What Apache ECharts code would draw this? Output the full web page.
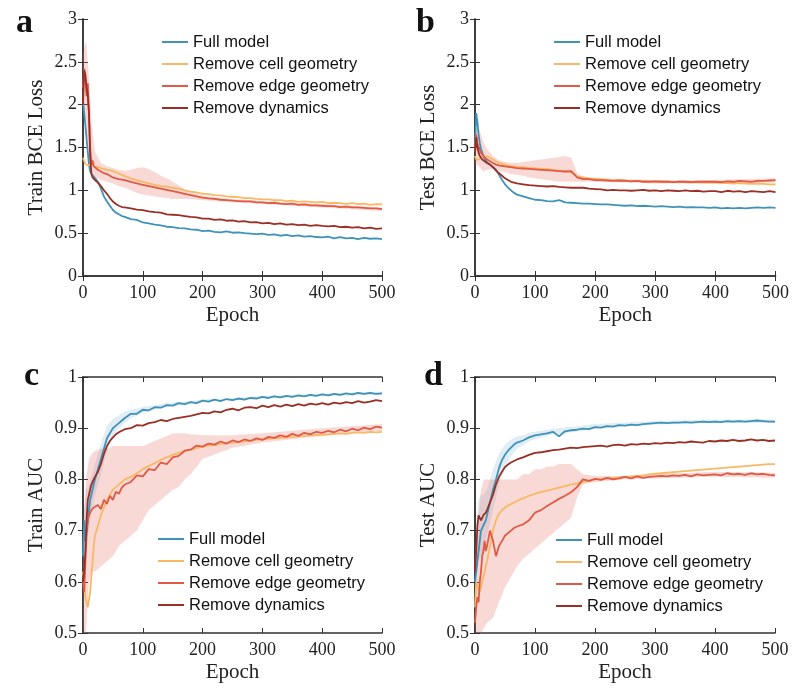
<!DOCTYPE html>
<html>
<head>
<meta charset="utf-8">
<script src="https://cdn.jsdelivr.net/npm/echarts@6/dist/echarts.min.js"></script>
<style>html,body{margin:0;padding:0;background:#fff}#main{width:792px;height:692px}</style>
</head>
<body>
<div id="main"></div>
<script>
// epochs
var epochs = [0,2,4,6,8,10,12,14,16,18,20,
  25,30,35,40,45,50,55,60,65,
  70,80,90,100,110,120,130,140,150,160,170,
  180,190,200,210,220,230,240,250,260,270,280,
  290,300,310,320,330,340,350,360,370,380,390,
  400,410,420,430,440,450,460,470,480,490,500];
var bandX = [0,5,10,15,20,30,40,50,60,70,80,90,100,110,120,130,140,150,160,170,180,200,250,300,400,500];
var names = ['Full model','Remove cell geometry','Remove edge geometry','Remove dynamics'];
var colors = ['#3f92b8','#f9b964','#e05a45','#9a2f26'];

// a - train loss
var aFull = [2.05,1.9,1.76,1.6,1.45,1.3,1.22,1.19,1.17,1.16,1.15,
  1.1,1.02,0.93,0.87,0.82,0.77,0.74,0.72,0.7,
  0.69,0.665,0.655,0.625,0.615,0.6,0.59,0.575,0.57,0.56,0.555,
  0.545,0.54,0.525,0.53,0.515,0.51,0.52,0.505,0.51,0.5,0.495,
  0.49,0.495,0.48,0.485,0.47,0.48,0.465,0.475,0.46,0.465,0.455,
  0.45,0.46,0.44,0.455,0.44,0.445,0.43,0.445,0.435,0.44,0.43];
var aCell = [1.38,1.34,1.31,1.3,1.29,1.29,1.3,1.3,1.29,1.28,1.28,
  1.27,1.26,1.25,1.24,1.235,1.225,1.21,1.195,1.18,
  1.165,1.14,1.12,1.1,1.08,1.065,1.05,1.045,1.03,1.02,1.0,
  0.985,0.975,0.96,0.955,0.945,0.94,0.93,0.925,0.92,0.91,0.91,
  0.9,0.895,0.895,0.885,0.885,0.875,0.88,0.865,0.87,0.865,0.86,
  0.865,0.85,0.855,0.85,0.84,0.85,0.84,0.845,0.83,0.84,0.835];
var aEdge = [2.2,2.42,2.3,2.1,2.25,1.9,1.5,1.3,1.35,1.28,1.3,
  1.24,1.22,1.2,1.19,1.17,1.15,1.14,1.13,1.125,
  1.12,1.1,1.08,1.065,1.05,1.035,1.02,1.005,0.99,0.975,0.96,
  0.945,0.93,0.915,0.905,0.9,0.89,0.885,0.88,0.875,0.87,0.87,
  0.86,0.86,0.85,0.855,0.845,0.84,0.845,0.83,0.835,0.825,0.825,
  0.82,0.815,0.815,0.805,0.81,0.8,0.8,0.795,0.79,0.79,0.78];
var aDyn = [2.0,2.4,2.35,2.2,2.1,1.9,1.4,1.2,1.15,1.13,1.12,
  1.09,1.05,1.0,0.96,0.91,0.87,0.84,0.82,0.805,
  0.8,0.79,0.775,0.77,0.755,0.745,0.74,0.72,0.715,0.71,0.7,
  0.69,0.685,0.67,0.67,0.655,0.66,0.645,0.65,0.635,0.64,0.625,
  0.63,0.615,0.62,0.605,0.615,0.6,0.605,0.595,0.6,0.585,0.595,
  0.585,0.58,0.585,0.57,0.575,0.565,0.57,0.555,0.565,0.55,0.555];
var aEdgeLow = [1.9,1.8,1.4,1.15,1.15,1.12,1.1,1.08,1.05,1.03,1.0,0.97,0.95,0.94,0.93,0.92,0.91,0.9,0.9,0.9,0.9,0.885,0.86,0.84,0.8,0.76];
var aEdgeHigh = [2.6,2.75,2.3,1.75,1.45,1.32,1.28,1.26,1.24,1.23,1.24,1.26,1.27,1.25,1.21,1.17,1.14,1.1,1.06,1.01,0.98,0.94,0.9,0.875,0.84,0.8];

// b - test loss
var bFull = [1.5,1.9,1.8,1.65,1.55,1.48,1.44,1.4,1.37,1.35,1.33,
  1.3,1.27,1.24,1.18,1.12,1.07,1.03,1.0,0.97,
  0.95,0.93,0.91,0.89,0.885,0.875,0.87,0.885,0.86,0.855,0.85,
  0.845,0.845,0.84,0.835,0.835,0.83,0.825,0.82,0.825,0.815,0.82,
  0.815,0.81,0.815,0.81,0.805,0.81,0.8,0.805,0.8,0.8,0.795,
  0.8,0.79,0.795,0.79,0.795,0.79,0.795,0.8,0.795,0.8,0.795];
var bCell = [1.4,1.36,1.35,1.36,1.37,1.38,1.39,1.4,1.41,1.4,1.4,
  1.38,1.36,1.34,1.32,1.31,1.3,1.29,1.28,1.28,
  1.27,1.27,1.26,1.26,1.25,1.25,1.24,1.23,1.22,1.21,1.16,
  1.15,1.14,1.135,1.13,1.125,1.12,1.12,1.115,1.11,1.11,1.11,
  1.105,1.1,1.1,1.1,1.095,1.1,1.095,1.09,1.095,1.09,1.09,
  1.09,1.085,1.085,1.08,1.085,1.08,1.075,1.08,1.075,1.07,1.07];
var bEdge = [1.45,1.65,1.55,1.5,1.47,1.44,1.42,1.4,1.38,1.37,1.36,
  1.34,1.32,1.3,1.29,1.285,1.28,1.275,1.27,1.265,
  1.26,1.255,1.25,1.245,1.24,1.235,1.23,1.225,1.22,1.225,1.15,
  1.13,1.13,1.12,1.12,1.115,1.11,1.115,1.11,1.105,1.11,1.1,
  1.1,1.105,1.1,1.1,1.095,1.1,1.1,1.095,1.1,1.1,1.1,
  1.1,1.095,1.105,1.1,1.11,1.105,1.1,1.11,1.11,1.115,1.12];
var bDyn = [1.45,1.62,1.5,1.44,1.4,1.38,1.36,1.35,1.34,1.33,1.32,
  1.3,1.27,1.23,1.2,1.17,1.14,1.12,1.1,1.09,
  1.08,1.07,1.06,1.055,1.05,1.045,1.05,1.04,1.035,1.03,1.03,
  1.03,1.02,1.015,1.01,1.0,1.005,1.0,1.0,0.995,1.0,1.005,
  0.995,1.0,0.99,1.0,0.995,0.99,1.0,0.99,0.995,0.985,0.99,
  0.99,0.98,0.995,0.985,0.99,0.98,0.99,0.985,0.98,0.99,0.98];
var bEdgeLow = [1.3,1.3,1.25,1.22,1.24,1.25,1.23,1.21,1.19,1.18,1.17,1.15,1.14,1.13,1.12,1.11,1.1,1.1,1.1,1.1,1.1,1.1,1.09,1.08,1.08,1.09];
var bEdgeHigh = [1.6,1.75,1.65,1.55,1.48,1.4,1.35,1.33,1.32,1.32,1.33,1.34,1.35,1.36,1.37,1.38,1.39,1.4,1.38,1.2,1.16,1.14,1.13,1.12,1.12,1.14];

// c - train AUC
var cFull = [0.65,0.72,0.68,0.7,0.72,0.74,0.76,0.77,0.78,0.79,0.8,
  0.82,0.84,0.86,0.88,0.89,0.9,0.905,0.91,0.915,
  0.92,0.928,0.928,0.936,0.935,0.941,0.94,0.945,0.944,0.949,0.947,
  0.951,0.949,0.954,0.952,0.956,0.953,0.957,0.955,0.958,0.956,0.959,
  0.958,0.961,0.959,0.962,0.96,0.963,0.961,0.964,0.962,0.965,0.963,
  0.966,0.964,0.967,0.965,0.968,0.966,0.969,0.967,0.969,0.967,0.968];
var cCell = [0.62,0.6,0.57,0.56,0.55,0.55,0.58,0.61,0.64,0.67,0.69,
  0.71,0.73,0.745,0.76,0.77,0.78,0.785,0.79,0.795,
  0.8,0.805,0.812,0.82,0.826,0.832,0.838,0.843,0.848,0.852,0.855,
  0.858,0.861,0.864,0.866,0.867,0.869,0.871,0.872,0.873,0.874,0.876,
  0.877,0.878,0.879,0.88,0.881,0.882,0.883,0.884,0.885,0.886,0.887,
  0.887,0.888,0.889,0.89,0.889,0.891,0.892,0.891,0.893,0.892,0.893];
var cEdge = [0.6,0.58,0.64,0.69,0.72,0.73,0.735,0.74,0.742,0.745,0.745,
  0.75,0.742,0.76,0.752,0.768,0.76,0.776,0.772,0.784,
  0.79,0.795,0.808,0.806,0.82,0.818,0.833,0.83,0.843,0.846,0.856,
  0.858,0.866,0.864,0.87,0.868,0.874,0.87,0.876,0.873,0.878,0.875,
  0.88,0.877,0.883,0.881,0.886,0.883,0.889,0.885,0.891,0.888,0.893,
  0.891,0.895,0.892,0.897,0.894,0.899,0.896,0.901,0.898,0.903,0.901];
var cDyn = [0.6,0.62,0.66,0.72,0.76,0.77,0.78,0.79,0.795,0.8,0.805,
  0.815,0.83,0.85,0.865,0.875,0.882,0.888,0.892,0.895,
  0.898,0.9,0.906,0.905,0.91,0.912,0.916,0.914,0.918,0.92,0.922,
  0.924,0.927,0.93,0.929,0.933,0.931,0.936,0.938,0.935,0.94,0.941,
  0.939,0.944,0.941,0.945,0.942,0.946,0.943,0.947,0.944,0.948,0.946,
  0.949,0.946,0.95,0.948,0.951,0.949,0.953,0.95,0.952,0.955,0.953];
var cEdgeLow = [0.5,0.5,0.6,0.62,0.62,0.63,0.64,0.65,0.67,0.68,0.69,0.7,0.72,0.74,0.75,0.76,0.77,0.78,0.785,0.8,0.81,0.84,0.862,0.872,0.885,0.895];
var cEdgeHigh = [0.7,0.8,0.84,0.85,0.855,0.86,0.86,0.865,0.865,0.865,0.865,0.865,0.865,0.87,0.875,0.88,0.885,0.89,0.89,0.89,0.888,0.886,0.886,0.89,0.9,0.908];
var cFullLow = [0.6,0.68,0.7,0.74,0.77,0.81,0.855,0.885,0.9,0.91,0.92,0.924,0.93,0.932,0.936,0.938,0.941,0.943,0.945,0.946,0.948,0.951,0.955,0.958,0.963,0.965];
var cFullHigh = [0.72,0.78,0.79,0.81,0.83,0.87,0.905,0.918,0.925,0.932,0.936,0.938,0.942,0.943,0.945,0.947,0.949,0.95,0.951,0.952,0.953,0.956,0.959,0.963,0.968,0.971];

// d - test AUC
var dFull = [0.6,0.62,0.64,0.66,0.68,0.7,0.705,0.71,0.715,0.72,0.73,
  0.755,0.78,0.8,0.822,0.838,0.848,0.856,0.862,0.868,
  0.872,0.876,0.882,0.886,0.888,0.89,0.893,0.884,0.894,0.896,0.897,
  0.899,0.898,0.902,0.901,0.904,0.903,0.906,0.905,0.907,0.906,0.908,
  0.909,0.91,0.911,0.91,0.911,0.911,0.912,0.911,0.912,0.913,0.912,
  0.913,0.912,0.914,0.913,0.914,0.913,0.914,0.915,0.914,0.913,0.913];
var dCell = [0.55,0.6,0.59,0.585,0.58,0.59,0.6,0.61,0.62,0.63,0.64,
  0.67,0.7,0.72,0.733,0.74,0.745,0.749,0.752,0.755,
  0.758,0.763,0.768,0.772,0.775,0.778,0.781,0.784,0.787,0.79,0.792,
  0.795,0.797,0.8,0.801,0.802,0.803,0.804,0.805,0.806,0.807,0.808,
  0.81,0.811,0.812,0.813,0.814,0.815,0.816,0.817,0.818,0.819,0.82,
  0.821,0.822,0.823,0.824,0.825,0.826,0.827,0.828,0.829,0.83,0.83];
var dEdge = [0.52,0.55,0.57,0.56,0.6,0.62,0.65,0.66,0.68,0.66,0.67,
  0.7,0.68,0.65,0.67,0.68,0.69,0.695,0.7,0.705,
  0.708,0.712,0.72,0.735,0.74,0.748,0.755,0.762,0.768,0.775,0.785,
  0.8,0.797,0.801,0.799,0.803,0.8,0.802,0.805,0.802,0.806,0.803,
  0.805,0.806,0.807,0.806,0.808,0.807,0.809,0.806,0.81,0.808,0.809,
  0.81,0.808,0.812,0.81,0.811,0.809,0.812,0.81,0.811,0.809,0.808];
var dDyn = [0.62,0.66,0.71,0.73,0.725,0.72,0.725,0.73,0.728,0.735,0.74,
  0.755,0.77,0.79,0.805,0.815,0.824,0.829,0.833,0.836,
  0.839,0.843,0.848,0.852,0.853,0.855,0.857,0.858,0.86,0.862,0.861,
  0.863,0.864,0.865,0.866,0.864,0.867,0.868,0.866,0.869,0.868,0.87,
  0.869,0.871,0.87,0.872,0.871,0.873,0.872,0.874,0.873,0.872,0.875,
  0.874,0.876,0.875,0.877,0.875,0.876,0.878,0.876,0.877,0.875,0.876];
var dEdgeLow = [0.5,0.5,0.5,0.51,0.52,0.53,0.56,0.59,0.61,0.63,0.645,0.655,0.665,0.675,0.685,0.695,0.705,0.715,0.725,0.765,0.79,0.795,0.8,0.802,0.805,0.803];
var dEdgeHigh = [0.58,0.72,0.78,0.8,0.8,0.8,0.8,0.8,0.8,0.8,0.81,0.81,0.82,0.82,0.825,0.825,0.83,0.83,0.83,0.82,0.81,0.807,0.806,0.81,0.815,0.813];
var dFullLow = [0.55,0.64,0.65,0.67,0.69,0.74,0.79,0.825,0.845,0.86,0.867,0.874,0.879,0.882,0.885,0.888,0.888,0.89,0.892,0.893,0.895,0.899,0.904,0.907,0.91,0.91];
var dFullHigh = [0.65,0.76,0.77,0.77,0.78,0.82,0.85,0.868,0.878,0.884,0.886,0.89,0.893,0.895,0.897,0.899,0.9,0.902,0.903,0.904,0.905,0.908,0.911,0.914,0.917,0.917];

var pink = 'rgba(228,110,95,0.26)', lightBlue = 'rgba(63,146,184,0.16)';
var panels = [
  {letter:'a', grid:{left:83,top:19,width:299,height:257}, ymin:0, ymax:3, yint:0.5, yname:'Train BCE Loss',
   lines:[aFull,aCell,aEdge,aDyn], bands:[[aEdgeLow,aEdgeHigh,pink]], lg:{left:157,top:28}, tl:{left:11,top:1}},
  {letter:'b', grid:{left:475,top:19,width:301,height:257}, ymin:0, ymax:3, yint:0.5, yname:'Test BCE Loss',
   lines:[bFull,bCell,bEdge,bDyn], bands:[[bEdgeLow,bEdgeHigh,pink]], lg:{left:549,top:28}, tl:{left:411,top:1}},
  {letter:'c', grid:{left:83,top:377,width:299,height:256}, ymin:0.5, ymax:1, yint:0.1, yname:'Train AUC',
   lines:[cFull,cCell,cEdge,cDyn], bands:[[cFullLow,cFullHigh,lightBlue],[cEdgeLow,cEdgeHigh,pink]], lg:{left:153,top:525}, tl:{left:19,top:354}},
  {letter:'d', grid:{left:475,top:377,width:300,height:256}, ymin:0.5, ymax:1, yint:0.1, yname:'Test AUC',
   lines:[dFull,dCell,dEdge,dDyn], bands:[[dFullLow,dFullHigh,lightBlue],[dEdgeLow,dEdgeHigh,pink]], lg:{left:551,top:526}, tl:{left:419,top:354}}
];

function pairs(xs, ys) { return xs.map(function (x, i) { return [x, ys[i]]; }); }

// band polygon: upper edge left to right, lower edge back
function bandRender(low, high, fill) {
  return function (params, api) {
    var pts = [];
    for (var k = 0; k < bandX.length; k++) pts.push(api.coord([bandX[k], high[k]]));
    for (var k = bandX.length - 1; k >= 0; k--) pts.push(api.coord([bandX[k], low[k]]));
    return {type: 'polygon', shape: {points: pts}, style: {fill: fill}, silent: true};
  };
}

var frame = {lineStyle: {color: '#333', width: 1.5}};
var serif = 'Liberation Serif';
var option = {animation: false, backgroundColor: '#fff', title: [], grid: [], xAxis: [], yAxis: [], legend: [], series: []};

panels.forEach(function (p, i) {
  option.title.push({text: p.letter, left: p.tl.left, top: p.tl.top,
    textStyle: {fontFamily: serif, fontWeight: 'bold', fontSize: 34, color: '#111'}});
  option.grid.push(p.grid);
  option.xAxis.push({type: 'value', gridIndex: i, min: 0, max: 500, interval: 100, position: 'bottom',
    axisLine: frame, axisTick: {inside: true, length: 5, lineStyle: {color: '#333'}},
    axisLabel: {fontFamily: serif, fontSize: 18, color: '#222', margin: 8},
    splitLine: {show: false}, name: 'Epoch', nameLocation: 'middle', nameGap: 29,
    nameTextStyle: {fontFamily: serif, fontSize: 21, color: '#222'}});
  option.xAxis.push({type: 'value', gridIndex: i, min: 0, max: 500, interval: 100, position: 'top',
    axisLine: frame, axisTick: {inside: true, length: 5, lineStyle: {color: '#333'}},
    axisLabel: {show: false}, splitLine: {show: false}});
  option.yAxis.push({type: 'value', gridIndex: i, min: p.ymin, max: p.ymax, interval: p.yint, position: 'left',
    axisLine: frame, axisTick: {inside: true, length: 5, lineStyle: {color: '#333'}},
    axisLabel: {fontFamily: serif, fontSize: 18, color: '#222', margin: 6},
    splitLine: {show: false}, name: p.yname, nameLocation: 'middle', nameRotate: 90, nameGap: 36,
    nameTextStyle: {fontFamily: serif, fontSize: 21, color: '#222'}});
  option.yAxis.push({type: 'value', gridIndex: i, min: p.ymin, max: p.ymax, interval: p.yint, position: 'right',
    axisLine: frame, axisTick: {inside: true, length: 5, lineStyle: {color: '#333'}},
    axisLabel: {show: false}, splitLine: {show: false}});

  // shaded spread bands
  p.bands.forEach(function (b) {
    option.series.push({type: 'custom', xAxisIndex: 2 * i, yAxisIndex: 2 * i,
      data: [[bandX[0], b[0][0]]], renderItem: bandRender(b[0], b[1], b[2]), clip: true, silent: true, z: 1});
  });

  p.lines.forEach(function (ys, k) {
    option.series.push({type: 'line', name: names[k], xAxisIndex: 2 * i, yAxisIndex: 2 * i,
      data: pairs(epochs, ys), symbol: 'none', color: colors[k],
      lineStyle: {color: colors[k], width: 1.8}, z: 2});
  });

  option.legend.push({data: names, orient: 'vertical', left: p.lg.left, top: p.lg.top,
    icon: 'rect', itemWidth: 26, itemHeight: 2, itemGap: 4, selectedMode: false,
    textStyle: {fontFamily: 'Liberation Sans', fontSize: 16.5, color: '#111', lineHeight: 18}});
});

var myChart = echarts.init(document.getElementById('main'));
myChart.setOption(option);
</script>
</body>
</html>
